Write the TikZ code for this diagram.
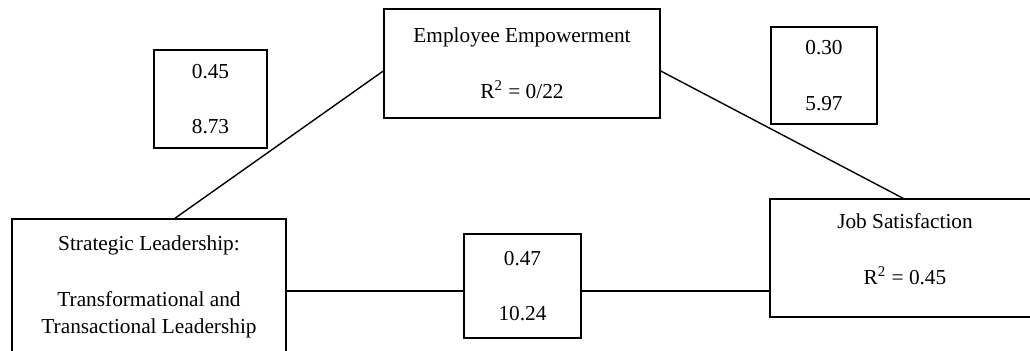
\documentclass[tikz,border=0pt]{standalone}
\usepackage{fontspec}
\setmainfont{Liberation Serif}
\usetikzlibrary{positioning}

\begin{document}
\begin{tikzpicture}[
  x=0.5pt, y=-0.5pt,
  every node/.style={font=\fontsize{10.65}{13.9}\selectfont},
  box/.style={draw, line width=0.75pt, align=center, inner sep=0pt},
  val/.style={box},
  link/.style={line width=0.7pt}
]
\useasboundingbox (0,0) rectangle (1030,350);
\clip (0,0) rectangle (1030,350);
\node[box, minimum width=138pt, minimum height=54.5pt] (emp) at (522, 63.5)
  {Employee Empowerment\\[13.9pt]R\textsuperscript{2} = 0/22};
\node[box, minimum width=137pt, minimum height=68pt] (strat) at (149, 287)
  {Strategic Leadership:\\[13.9pt]Transformational and\\Transactional Leadership};
\node[box, minimum width=135pt, minimum height=59pt, text depth=9pt] (job) at (905, 258)
  {Job Satisfaction\\[13.9pt]R\textsuperscript{2} = 0.45};
\node[val, minimum width=58.5pt, minimum height=52pt] (mid) at (522.5, 286)
  {0.47\\[13.9pt]10.24};
\node[val, minimum width=56.5pt, minimum height=49pt] (lval) at (210.5, 99)
  {0.45\\[13.9pt]8.73};
\node[val, minimum width=53pt, minimum height=48.5pt] (rval) at (824, 75.5)
  {0.30\\[13.9pt]5.97};
\draw[link] ([xshift=13pt]strat.north) -- ([yshift=-3.75pt]emp.west);
\draw[link] ([yshift=-3.75pt]emp.east) -- ([xshift=-1pt]job.north);
\draw[link] ([yshift=-2pt]strat.east) -- ([yshift=-2.5pt]mid.west);
\draw[link] ([yshift=-2.5pt]mid.east) -- ([yshift=-2.5pt]mid.east -| job.west);
\end{tikzpicture}
\end{document}
